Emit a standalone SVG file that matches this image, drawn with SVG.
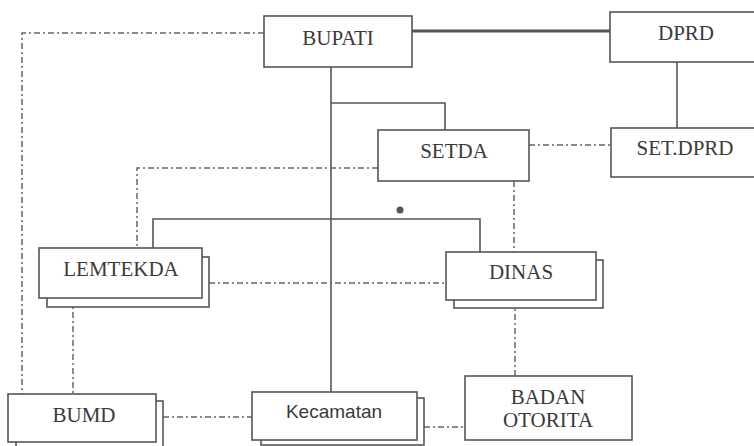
<svg xmlns="http://www.w3.org/2000/svg" width="754" height="446" viewBox="0 0 754 446">
<style>
.box{fill:#fff;stroke:#555;stroke-width:1.6}
.sh{fill:#fff;stroke:#555;stroke-width:1.6}
.t{font-family:'Liberation Serif','Times New Roman','DejaVu Serif',serif;font-size:21px;fill:#3a3a3a;text-anchor:middle}
.s{font-family:'Liberation Sans',Arial,sans-serif;font-size:19px;fill:#3a3a3a;text-anchor:middle}
.solid{fill:none;stroke:#555;stroke-width:1.6}
.dd{fill:none;stroke:#666;stroke-width:1.5;stroke-dasharray:6 3 2 3}
</style>
<rect width="754" height="446" fill="#fff"/>
<g id="connectors">
<path class="dd" d="M264,33 H22 V394"/>
<path class="solid" d="M331,67 V392"/>
<path class="solid" d="M331,103 H445 V130"/>
<path fill="none" stroke="#555" stroke-width="3" d="M412,31 H610"/>
<path class="solid" d="M677,62 V128"/>
<path class="dd" d="M529,145 H611"/>
<path class="dd" d="M378,168 H137 V248"/>
<path class="dd" d="M514,181 V252"/>
<path class="dd" d="M515,300 V376"/>
<path class="solid" d="M153,248 V219 H480 V252"/>
<circle cx="400" cy="210" r="3.5" fill="#555"/>
<path class="dd" d="M209,283 H446"/>
<path class="dd" d="M73,298 V394"/>
<path class="dd" d="M163,417 H252"/>
<path class="dd" d="M424,427 H465"/>
</g>
<g id="bupati">
<rect class="box" x="264" y="16" width="148" height="51"/>
<text class="t" x="338" y="45" font-family="Liberation Serif, serif">BUPATI</text>
</g>
<g id="dprd">
<rect class="box" x="610" y="12" width="160" height="50"/>
<text class="t" x="686" y="40" font-family="Liberation Serif, serif">DPRD</text>
</g>
<g id="setda">
<rect class="box" x="378" y="130" width="151" height="51"/>
<text class="t" x="454" y="158" font-family="Liberation Serif, serif">SETDA</text>
</g>
<g id="setdprd">
<rect class="box" x="611" y="128" width="160" height="49"/>
<text class="t" x="685" y="155" font-family="Liberation Serif, serif">SET.DPRD</text>
</g>
<g id="lemtekda">
<rect class="sh" x="47" y="257" width="162" height="50"/>
<rect class="box" x="39" y="248" width="163" height="50"/>
<text class="t" x="121" y="276" font-family="Liberation Serif, serif">LEMTEKDA</text>
</g>
<g id="dinas">
<rect class="sh" x="454" y="260" width="149" height="48"/>
<rect class="box" x="446" y="252" width="150" height="48"/>
<text class="t" x="521" y="279" font-family="Liberation Serif, serif">DINAS</text>
</g>
<g id="bumd">
<rect class="sh" x="16" y="401" width="147" height="50"/>
<rect class="box" x="8" y="394" width="148" height="48"/>
<text class="t" x="84" y="422" font-family="Liberation Serif, serif">BUMD</text>
</g>
<g id="kecamatan">
<rect class="sh" x="261" y="398" width="163" height="47"/>
<rect class="box" x="252" y="392" width="165" height="48"/>
<text class="s" x="334" y="418">Kecamatan</text>
</g>
<g id="badan">
<rect class="box" x="465" y="376" width="167" height="64"/>
<text class="t" x="548" y="404" font-family="Liberation Serif, serif">BADAN</text>
<text class="t" x="548" y="427" font-family="Liberation Serif, serif">OTORITA</text>
</g>
</svg>
